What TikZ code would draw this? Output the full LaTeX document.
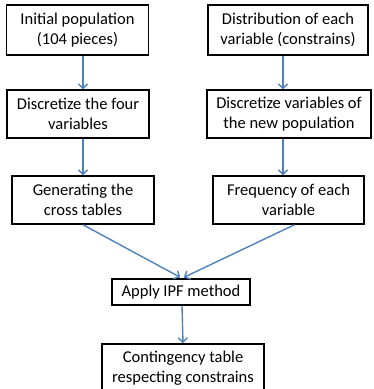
\documentclass[tikz,border=0pt]{standalone}
\usepackage{fontspec}
\setmainfont{Carlito}
\usepackage{xcolor}
\usetikzlibrary{arrows.meta,positioning}
\definecolor{flowblue}{HTML}{4F81BD}

\begin{document}
\begin{tikzpicture}[x=1pt,y=1pt, every node/.style={font=\fontsize{16.5}{20}\selectfont}, box/.style={draw,line width=1.5pt,align=center,inner sep=0pt}, arr/.style={-{Straight Barb[length=4.5pt,width=9pt]},flowblue,line width=1.4pt}]
\clip (0,0) rectangle (373,-389);
\node[box,minimum width=142,minimum height=50] (init) at (77.5,-30) {Initial population\\(104 pieces)};
\node[box,minimum width=160,minimum height=50] (dist) at (288,-30) {Distribution of each\\variable (constrains)};
\node[box,minimum width=142,minimum height=48] (disc) at (78,-114) {Discretize the four\\variables};
\node[box,minimum width=164,minimum height=48] (discnew) at (289,-114) {Discretize variables of\\the new population};
\node[box,minimum width=142,minimum height=48] (gen) at (83,-200) {Generating the\\cross tables};
\node[box,minimum width=151,minimum height=48] (freq) at (288.5,-200) {Frequency of each\\variable};
\node[box,minimum width=138,minimum height=26] (ipf) at (181,-292) {Apply IPF method};
\node[box,minimum width=162,minimum height=48] (cont) at (183,-368) {Contingency table\\respecting constrains};
\draw[arr] (init.south -| gen.south) -- (disc.north -| gen.south);
\draw[arr] (disc.south -| gen.south) -- (gen.north);
\draw[arr] ([xshift=-5pt]dist.south) -- ([xshift=-6pt]discnew.north);
\draw[arr] ([xshift=-6pt]discnew.south) -- ([xshift=-5.5pt]freq.north);
\draw[arr,shorten >=2pt] (gen.south) -- ([xshift=1pt]ipf.north);
\draw[arr,shorten >=2pt] ([xshift=6pt]freq.south) -- ([xshift=1pt]ipf.north);
\draw[arr] ([xshift=1pt]ipf.south) -- (cont.north);
\end{tikzpicture}
\end{document}
